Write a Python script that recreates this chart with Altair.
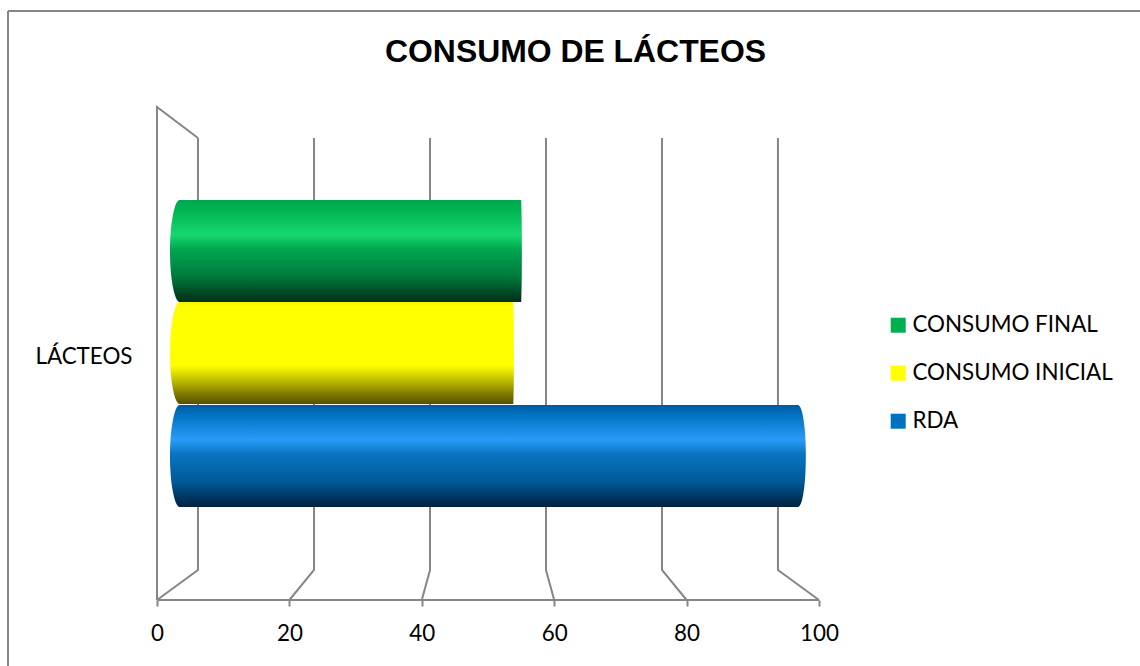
import altair as alt
import pandas as pd

# Values of the three bars, read on the 0-100 axis
series = ["CONSUMO FINAL", "CONSUMO INICIAL", "RDA"]
values = [55.0, 53.8, 96.7]
bar_start = 3.5
bar_low = [298.0, 196.0, 93.0]
colors = ["#00b050", "#ffff00", "#0070c0"]

# Perspective frame: front and back positions of each grid line
tick_values = [0, 20, 40, 60, 80, 100]
back_values = [6.19, 23.72, 41.24, 58.76, 76.28, 93.8]
floor_back, wall_top, front_top = 30, 462, 493
bar_height = 102
GRID = "#868686"
FONT = "Lato"
TEXT_SIZE = 22.4

grad_stops = {
    "CONSUMO FINAL": [(0, "#00a850"), (0.08, "#00b050"), (0.34, "#16d870"), (0.48, "#00a850"),
                      (0.75, "#007a3c"), (0.94, "#003f20"), (1, "#00301a")],
    "CONSUMO INICIAL": [(0, "#f4f400"), (0.04, "#ffff00"), (0.62, "#ffff00"), (0.74, "#cccc00"),
                        (0.9, "#807a00"), (1, "#565000")],
    "RDA": [(0, "#005a9e"), (0.09, "#0070c0"), (0.34, "#2a9cf8"), (0.48, "#0a74c2"),
            (0.75, "#005a98"), (0.93, "#003058"), (1, "#002240")],
}

# End caps of the cylinders, in the unit box used by custom symbol paths
left_cap = "M 0.03 -1 L -0.02 -1 C -0.1 -0.98 -0.2 -0.6 -0.2 0 C -0.2 0.6 -0.1 0.98 -0.02 1 L 0.03 1 Z"
right_caps = {
    "CONSUMO FINAL": "M -0.03 -1 L 0 -1 C 0.02 -0.5 0.02 0.5 0 1 L -0.03 1 Z",
    "CONSUMO INICIAL": "M -0.03 -1 L 0 -1 C 0.02 -0.5 0.02 0.5 0 1 L -0.03 1 Z",
    "RDA": "M -0.03 -1 L 0.02 -1 C 0.1 -0.98 0.17 -0.6 0.17 0 C 0.17 0.6 0.1 0.98 0.02 1 L -0.03 1 Z",
}

x_scale = alt.Scale(domain=[0, 100], range=[0, 662], nice=False, zero=False)
y_scale = alt.Scale(domain=[0, 493], range=[493, 0], nice=False, zero=False)


def gradient(name):
    return alt.LinearGradient(
        gradient="linear", x1=0, x2=0, y1=0, y2=1,
        stops=[alt.GradientStop(offset=o, color=c) for o, c in grad_stops[name]],
    )


# Grid lines bent from the front edge to the back wall
grid_rows = []
for i, (front, back) in enumerate(zip(tick_values, back_values)):
    grid_rows += [
        {"line": i, "order": 0, "x": front, "y": 0},
        {"line": i, "order": 1, "x": back, "y": floor_back},
        {"line": i, "order": 2, "x": back, "y": wall_top},
    ]
grid_rows += [
    {"line": 10, "order": 0, "x": 0, "y": 0},
    {"line": 10, "order": 1, "x": 0, "y": front_top},
    {"line": 10, "order": 2, "x": back_values[0], "y": wall_top},
    {"line": 11, "order": 0, "x": 0, "y": 0},
    {"line": 11, "order": 1, "x": 100, "y": 0},
]

x_axis = alt.Axis(
    values=tick_values, title=None, grid=False, domain=False,
    tickColor=GRID, tickWidth=2, tickSize=6, labelFont=FONT, labelFontSize=TEXT_SIZE,
    labelColor="#000000", labelPadding=16, labelAngle=0, format="d",
    labelFlush=False, labelOverlap=False,
)
y_axis = alt.Axis(
    values=[244], labelExpr="'LÁCTEOS'", title=None, grid=False, domain=False, ticks=False,
    labelFont=FONT, labelFontSize=TEXT_SIZE, labelColor="#000000", labelPadding=25,
)

grid = alt.Chart(pd.DataFrame(grid_rows)).mark_line(color=GRID, strokeWidth=2).encode(
    x=alt.X("x:Q", scale=x_scale, axis=x_axis),
    y=alt.Y("y:Q", scale=y_scale, axis=y_axis),
    detail="line:N",
    order="order:Q",
)

layers = [grid]
for name, value, low in zip(series, values, bar_low):
    row = pd.DataFrame([{"start": bar_start, "end": value, "low": low,
                         "high": low + bar_height, "mid": low + bar_height / 2}])
    fill = gradient(name)
    base = alt.Chart(row)
    layers.append(base.mark_rect(color=fill).encode(
        x=alt.X("start:Q", scale=x_scale), x2="end:Q",
        y=alt.Y("low:Q", scale=y_scale), y2="high:Q",
    ))
    for cap, field in ((left_cap, "start"), (right_caps[name], "end")):
        layers.append(base.mark_point(
            shape=cap, size=bar_height ** 2, filled=True, color=fill, opacity=1, strokeWidth=0,
        ).encode(
            x=alt.X(f"{field}:Q", scale=x_scale),
            y=alt.Y("mid:Q", scale=y_scale),
        ))

# Invisible layer that only carries the legend
legend_layer = alt.Chart(pd.DataFrame({"name": series, "x": [0, 0, 0], "y": [0, 0, 0]})).mark_point(
    shape="square", filled=True, opacity=0,
).encode(
    x=alt.X("x:Q", scale=x_scale),
    y=alt.Y("y:Q", scale=y_scale),
    color=alt.Color(
        "name:N",
        scale=alt.Scale(domain=series, range=colors),
        sort=series,
        legend=alt.Legend(
            title=None, orient="none", legendX=730, legendY=207, symbolType="square",
            symbolSize=225, symbolOpacity=1, symbolStrokeWidth=0, labelFont=FONT, labelFontSize=TEXT_SIZE,
            labelColor="#000000", rowPadding=25, labelOffset=3, labelLimit=300,
        ),
    ),
)

# Outer frame, open on the right and at the bottom
frame_top = alt.Chart(pd.DataFrame({"a": [0]})).mark_rule(color=GRID, strokeWidth=2).encode(
    x=alt.value(-149), x2=alt.value(983), y=alt.value(-96),
)
frame_left = alt.Chart(pd.DataFrame({"a": [0]})).mark_rule(color=GRID, strokeWidth=2).encode(
    x=alt.value(-149), y=alt.value(-96), y2=alt.value(559),
)

title = alt.Chart(pd.DataFrame({"t": ["CONSUMO DE LÁCTEOS"]})).mark_text(
    font="Liberation Sans", fontWeight="bold", fontSize=31.9, color="#000000", align="center", baseline="middle",
).encode(x=alt.value(418.5), y=alt.value(-55), text="t:N")

chart = alt.layer(frame_top, frame_left, *layers, legend_layer, title).properties(
    width=662, height=493,
    padding={"left": 157, "top": 107, "right": 321, "bottom": 66},
    autosize=alt.AutoSizeParams(type="none"),
    background="#ffffff",
).configure_view(stroke=None)

chart.save("out.html", embed_options={"renderer": "svg", "actions": False})
